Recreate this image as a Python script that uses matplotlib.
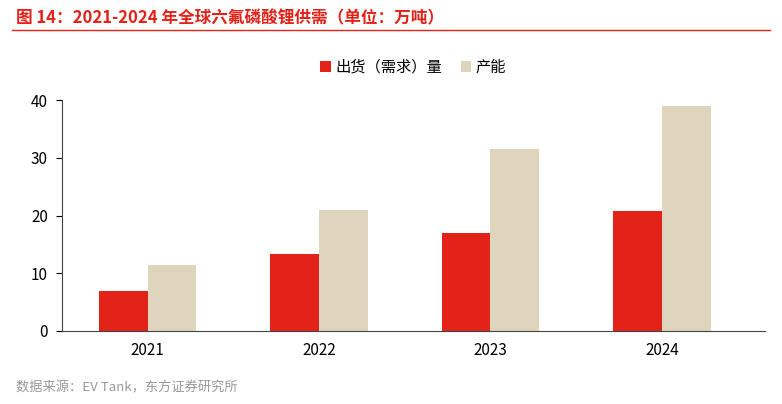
import matplotlib.pyplot as plt
import numpy as np

plt.rcParams['font.family'] = ['Noto Sans CJK SC', 'DejaVu Sans']

years = ['2021', '2022', '2023', '2024']
shipments = [7.0, 13.3, 16.9, 20.8]
capacity = [11.5, 21.0, 31.5, 39.0]

red = '#E32219'
beige = '#DFD4BC'

fig = plt.figure(figsize=(7.82, 4.04), dpi=100)
ax = fig.add_axes([0.079, 0.181, 0.899, 0.571])

x = np.arange(len(years))
w = 0.285
ax.bar(x - w / 2, shipments, w, color=red, label='出货（需求）量')
ax.bar(x + w / 2, capacity, w, color=beige, label='产能')

ax.set_xlim(-0.5, 3.6)
ax.set_ylim(0, 40)
ax.set_yticks([0, 10, 20, 30, 40])
ax.set_xticks(x)
ax.set_xticklabels(years)
ax.tick_params(axis='both', labelsize=11, length=0, pad=8)
ax.tick_params(axis='y', length=4, direction='out', pad=6)
for s in ['top', 'right']:
    ax.spines[s].set_visible(False)
for s in ['left', 'bottom']:
    ax.spines[s].set_color('#444444')

ax.legend(loc='upper center', bbox_to_anchor=(0.5, 1.24), ncol=2, frameon=False,
          fontsize=11, handlelength=0.7, handleheight=0.7, columnspacing=1.2,
          handletextpad=0.3)

fig.text(0.02, 0.955, '图 14：2021-2024 年全球六氟磷酸锂供需（单位：万吨）',
         color=red, fontsize=12, fontweight='bold', va='center')
fig.add_artist(plt.Line2D([0.015, 0.985], [0.925, 0.925], color=red, lw=1))
fig.text(0.02, 0.04, '数据来源：EV Tank，东方证券研究所', color='#999999',
         fontsize=9.5, va='center')

plt.savefig('out.png')
